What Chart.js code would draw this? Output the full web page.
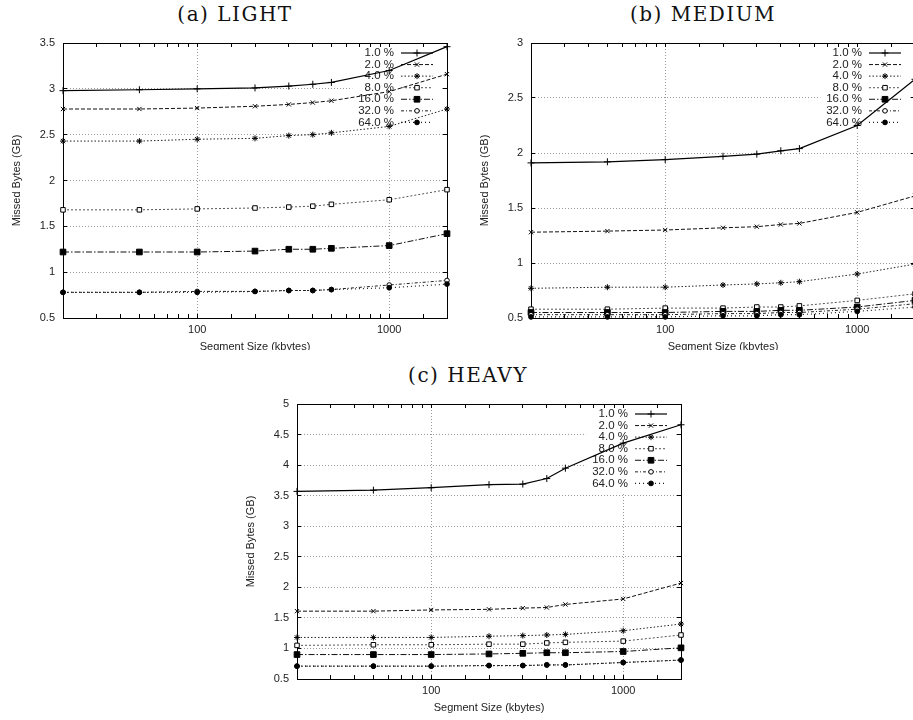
<!DOCTYPE html>
<html>
<head>
<meta charset="utf-8">
<script src="https://cdn.jsdelivr.net/npm/chart.js@4.4.1/dist/chart.umd.min.js"></script>
<style>
  html, body { margin: 0; padding: 0; background: #fff; overflow: hidden; width: 913px; height: 720px; }
  .panel { position: absolute; overflow: hidden; }
  .ptitle {
    position: absolute; transform: translate(-50%, -50%); white-space: nowrap;
    font-family: "DejaVu Serif", "Liberation Serif", serif; font-size: 20px; letter-spacing: 1.5px; color: #111;
  }
</style>
</head>
<body>
<div class="ptitle" style="left:235px; top:14px;">(a) LIGHT</div>
<div class="ptitle" style="left:703px; top:14px;">(b) MEDIUM</div>
<div class="ptitle" style="left:468px; top:375px;">(c) HEAVY</div>

<div class="panel" style="left:0px; top:0px; width:460px; height:350px;"><canvas id="lightChart" width="460" height="360"></canvas></div>
<div class="panel" style="left:468px; top:0px; width:460px; height:350px;"><canvas id="mediumChart" width="460" height="360"></canvas></div>
<div class="panel" style="left:234px; top:361px; width:460px; height:360px;"><canvas id="heavyChart" width="460" height="360"></canvas></div>

<script>
// Segment sizes (kbytes) on the x axis
const segmentSizes = [20, 50, 100, 200, 300, 400, 500, 1000, 2000];
const seriesLabels = ['1.0 %', '2.0 %', '4.0 %', '8.0 %', '16.0 %', '32.0 %', '64.0 %'];

// Missed bytes (GB), one row per series
const lightValues = [
    [2.98, 2.99, 3.00, 3.01, 3.03, 3.05, 3.07, 3.20, 3.46],
    [2.78, 2.78, 2.79, 2.81, 2.83, 2.85, 2.87, 2.97, 3.16],
    [2.43, 2.43, 2.45, 2.46, 2.49, 2.50, 2.52, 2.59, 2.78],
    [1.68, 1.68, 1.69, 1.70, 1.71, 1.72, 1.74, 1.79, 1.90],
    [1.22, 1.22, 1.22, 1.23, 1.25, 1.25, 1.26, 1.29, 1.42],
    [0.78, 0.78, 0.79, 0.79, 0.80, 0.80, 0.81, 0.86, 0.91],
    [0.78, 0.78, 0.78, 0.79, 0.80, 0.80, 0.81, 0.83, 0.87]
];
const mediumValues = [
    [1.91, 1.92, 1.94, 1.97, 1.99, 2.02, 2.04, 2.25, 2.67],
    [1.28, 1.29, 1.30, 1.32, 1.33, 1.35, 1.36, 1.46, 1.61],
    [0.77, 0.78, 0.78, 0.80, 0.81, 0.82, 0.83, 0.90, 0.99],
    [0.58, 0.58, 0.59, 0.59, 0.60, 0.60, 0.61, 0.66, 0.72],
    [0.55, 0.55, 0.55, 0.56, 0.56, 0.57, 0.57, 0.60, 0.66],
    [0.53, 0.53, 0.53, 0.54, 0.54, 0.55, 0.55, 0.58, 0.63],
    [0.51, 0.51, 0.51, 0.52, 0.52, 0.53, 0.53, 0.56, 0.60]
];
const heavyValues = [
    [3.57, 3.59, 3.63, 3.68, 3.69, 3.78, 3.95, 4.36, 4.66],
    [1.61, 1.61, 1.63, 1.64, 1.66, 1.67, 1.72, 1.81, 2.07],
    [1.18, 1.18, 1.18, 1.20, 1.21, 1.22, 1.23, 1.29, 1.40],
    [1.05, 1.06, 1.06, 1.07, 1.07, 1.09, 1.10, 1.12, 1.22],
    [0.90, 0.90, 0.90, 0.91, 0.92, 0.93, 0.93, 0.95, 1.01],
    [0.71, 0.71, 0.71, 0.72, 0.72, 0.73, 0.73, 0.77, 0.81],
    [0.71, 0.71, 0.71, 0.72, 0.72, 0.73, 0.73, 0.77, 0.81]
];

// gnuplot-ish line types, one per series
const lineStyles = [
    { dash: [],            color: '#000', width: 1.2, point: 'cross',    radius: 3.5, fill: '#000' },
    { dash: [4, 2],        color: '#111', width: 1,   point: 'crossRot', radius: 3,   fill: '#000' },
    { dash: [1.5, 2],      color: '#222', width: 1,   point: 'star',     radius: 3,   fill: '#000' },
    { dash: [2, 2],        color: '#555', width: 1,   point: 'rect',     radius: 3.2, fill: '#fff' },
    { dash: [6, 2, 1.5, 2], color: '#111', width: 1,  point: 'rect',     radius: 4,   fill: '#000' },
    { dash: [3, 2, 1, 2],  color: '#222', width: 1,   point: 'circle',   radius: 2.3, fill: '#fff' },
    { dash: [1, 3],        color: '#222', width: 1.2, point: 'circle',   radius: 2.4, fill: '#000' }
];

const sansFont = "'Liberation Sans', Arial, Helvetica, sans-serif";
const isDecade = v => Math.abs(Math.log10(v) - Math.round(Math.log10(v))) < 1e-9;

// Key drawn inside the plot, top right, the way gnuplot does it
const keyPlugin = {
    id: 'gnuKey',
    beforeDatasetsDraw(chart) {
        const { ctx, chartArea } = chart;
        const right = chartArea.right;
        const top = chartArea.top;
        const rowH = 11.57;
        ctx.save();
        ctx.font = '11.5px ' + sansFont;
        const maxW = Math.max(...chart.data.datasets.map(d => ctx.measureText(d.label).width));
        ctx.fillStyle = '#fff';
        ctx.fillRect(right - 53 - maxW - 6, top + 5, maxW + 54, 7 * rowH + 4);
        chart.data.datasets.forEach((ds, i) => {
            const y = top + 10 + i * rowH;
            ctx.fillStyle = '#222';
            ctx.textAlign = 'right';
            ctx.textBaseline = 'middle';
            ctx.fillText(ds.label, right - 53, y);
            ctx.strokeStyle = ds.borderColor;
            ctx.lineWidth = ds.borderWidth;
            ctx.setLineDash(ds.borderDash);
            ctx.beginPath();
            ctx.moveTo(right - 46, y);
            ctx.lineTo(right - 14, y);
            ctx.stroke();
            ctx.setLineDash([]);
            ctx.fillStyle = ds.pointBackgroundColor;
            ctx.strokeStyle = ds.pointBorderColor;
            ctx.lineWidth = 1;
            Chart.helpers.drawPoint(ctx, { pointStyle: ds.pointStyle, radius: ds.pointRadius, rotation: 0, borderWidth: 1 }, right - 30, y);
        });
        ctx.restore();
    }
};

function makeChart(canvasId, values, yMax) {
    const datasets = values.map((row, i) => {
        const st = lineStyles[i];
        return {
            label: seriesLabels[i],
            data: segmentSizes.map((x, j) => ({ x: x, y: row[j] })),
            order: values.length - i, // later series drawn on top, like gnuplot
            borderColor: st.color,
            borderWidth: st.width,
            borderDash: st.dash,
            tension: 0,
            fill: false,
            pointStyle: st.point,
            pointRadius: st.radius,
            pointBackgroundColor: st.fill,
            pointBorderColor: '#000',
            pointBorderWidth: 1,
            clip: false
        };
    });

    return new Chart(document.getElementById(canvasId), {
        type: 'line',
        data: { datasets: datasets },
        plugins: [keyPlugin],
        options: {
            responsive: false,
            animation: false,
            layout: { padding: { top: 43, right: 13, left: 0, bottom: 0 } },
            plugins: {
                legend: { display: false },
                tooltip: { enabled: false }
            },
            scales: {
                x: {
                    type: 'logarithmic',
                    position: 'bottom',
                    min: 20,
                    max: 2000,
                    afterFit: s => { s.height = 42; },
                    ticks: {
                        autoSkip: false,
                        maxRotation: 0,
                        padding: 9,
                        color: '#222',
                        font: { family: sansFont, size: 11 },
                        callback: v => isDecade(v) ? String(v) : ''
                    },
                    grid: {
                        color: c => (c.tick && isDecade(c.tick.value)) ? '#9a9a9a' : 'transparent',
                        lineWidth: 1,
                        tickLength: -4,
                        tickColor: '#000'
                    },
                    border: { color: '#000', width: 1, dash: [1, 2] },
                    title: {
                        display: true,
                        text: 'Segment Size (kbytes)',
                        color: '#222',
                        font: { family: sansFont, size: 11 },
                        padding: { top: 0, bottom: 6.4 }
                    }
                },
                x2: {
                    type: 'logarithmic',
                    position: 'top',
                    min: 20,
                    max: 2000,
                    afterFit: s => { s.height = 0; },
                    ticks: { display: false, autoSkip: false },
                    grid: { drawOnChartArea: false, tickLength: -4, tickColor: '#000' },
                    border: { color: '#000', width: 1 }
                },
                y: {
                    type: 'linear',
                    position: 'left',
                    min: 0.5,
                    max: yMax,
                    afterFit: s => { s.width = 63; },
                    ticks: {
                        stepSize: 0.5,
                        padding: 12,
                        color: '#222',
                        font: { family: sansFont, size: 11 },
                        callback: v => String(v)
                    },
                    grid: { color: '#9a9a9a', lineWidth: 1, tickLength: -4, tickColor: '#000' },
                    border: { color: '#000', width: 1, dash: [1, 2] },
                    title: {
                        display: true,
                        text: 'Missed Bytes (GB)',
                        color: '#222',
                        font: { family: sansFont, size: 11 },
                        padding: { top: 10, bottom: 0 }
                    }
                },
                y2: {
                    type: 'linear',
                    position: 'right',
                    min: 0.5,
                    max: yMax,
                    afterFit: s => { s.width = 0; },
                    ticks: { display: false, stepSize: 0.5 },
                    grid: { drawOnChartArea: false, tickLength: -4, tickColor: '#000' },
                    border: { color: '#000', width: 1 }
                }
            }
        }
    });
}

makeChart('lightChart', lightValues, 3.5);
makeChart('mediumChart', mediumValues, 3);
makeChart('heavyChart', heavyValues, 5);
</script>
</body>
</html>
